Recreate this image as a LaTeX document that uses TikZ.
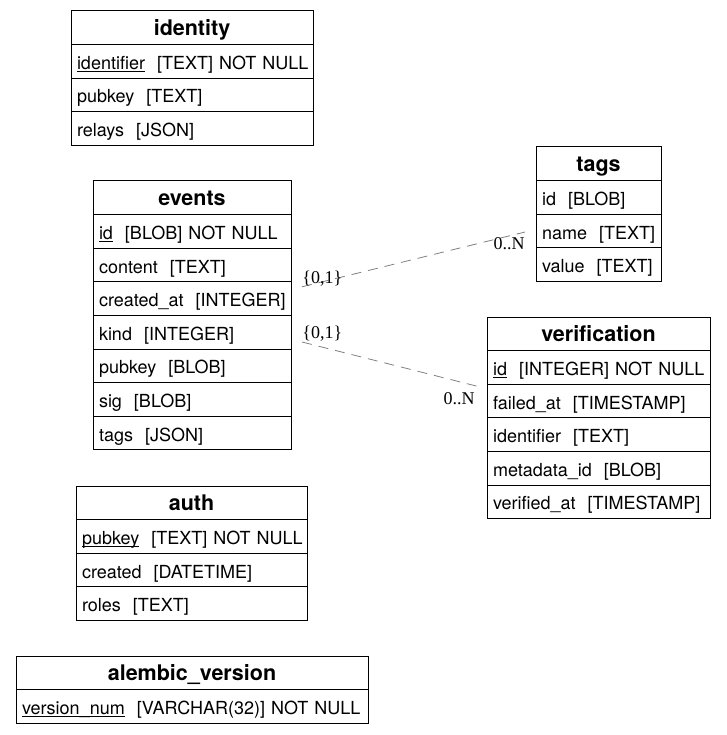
\documentclass[tikz,border=0pt]{standalone}
\usepackage{fontspec}
\setmainfont{TeX Gyre Heros}
\newfontfamily\cardfont{Liberation Serif}
\usetikzlibrary{positioning}

\newcommand\pk[1]{\setbox0\hbox{#1}\rlap{\rule[-2.5pt]{\wd0}{0.8pt}}\box0}
\newcommand\nohyph{\hyphenpenalty=10000\exhyphenpenalty=10000\relax}

\tikzset{
  cell/.style={draw, line width=1pt, outer sep=0pt, minimum height=33.6pt, inner xsep=6pt, inner ysep=0pt,
    text height=16pt, text depth=0pt},
  head/.style={cell, text width=#1, align=center, font=\fontsize{21.5}{25}\selectfont\bfseries},
  row/.style={cell, text width=#1, align=left, font=\fontsize{18}{22}\selectfont\nohyph},
  rel/.style={draw=gray, line width=0.8pt, dash pattern=on 10pt off 7pt},
  card/.style={inner sep=0pt, font=\cardfont\fontsize{18}{22}\selectfont}
}

\begin{document}
\begin{tikzpicture}[x=1pt, y=-1pt]

\useasboundingbox (0,0) rectangle (726,735);

% identity
\node[head=230pt, anchor=north west] (id-h) at (71,11) {identity};
\node[row=230pt, below=0pt of id-h] (id-identifier) {\pk{identifier}~~[TEXT]~NOT~NULL};
\node[row=230pt, below=0pt of id-identifier] (id-pubkey) {pubkey~~[TEXT]};
\node[row=230pt, below=0pt of id-pubkey] (id-relays) {relays~~[JSON]};

% events
\node[head=186pt, anchor=north west] (ev-h) at (93,181) {events};
\node[row=186pt, below=0pt of ev-h] (ev-id) {\pk{id}~~[BLOB]~NOT~NULL};
\node[row=186pt, below=0pt of ev-id] (ev-content) {content~~[TEXT]};
\node[row=186pt, below=0pt of ev-content] (ev-created) {created\_at~~[INTEGER]};
\node[row=186pt, below=0pt of ev-created] (ev-kind) {kind~~[INTEGER]};
\node[row=186pt, below=0pt of ev-kind] (ev-pubkey) {pubkey~~[BLOB]};
\node[row=186pt, below=0pt of ev-pubkey] (ev-sig) {sig~~[BLOB]};
\node[row=186pt, below=0pt of ev-sig] (ev-tags) {tags~~[JSON]};

% tags
\node[head=113pt, anchor=north west] (tg-h) at (536,147) {tags};
\node[row=113pt, below=0pt of tg-h] (tg-id) {id~~[BLOB]};
\node[row=113pt, below=0pt of tg-id] (tg-name) {name~~[TEXT]};
\node[row=113pt, below=0pt of tg-name] (tg-value) {value~~[TEXT]};

% verification
\node[head=211pt, anchor=north west] (vf-h) at (487,317) {verification};
\node[row=211pt, below=0pt of vf-h] (vf-id) {\pk{id}~~[INTEGER]~NOT~NULL};
\node[row=211pt, below=0pt of vf-id] (vf-failed) {failed\_at~~[TIMESTAMP]};
\node[row=211pt, below=0pt of vf-failed] (vf-identifier) {identifier~~[TEXT]};
\node[row=211pt, below=0pt of vf-identifier] (vf-metadata) {metadata\_id~~[BLOB]};
\node[row=211pt, below=0pt of vf-metadata] (vf-verified) {verified\_at~~[TIMESTAMP]};

% auth
\node[head=219pt, anchor=north west] (au-h) at (76,486) {auth};
\node[row=219pt, below=0pt of au-h] (au-pubkey) {\pk{pubkey}~~[TEXT]~NOT~NULL};
\node[row=219pt, below=0pt of au-pubkey] (au-created) {created~~[DATETIME]};
\node[row=219pt, below=0pt of au-created] (au-roles) {roles~~[TEXT]};

% alembic_version
\node[head=340pt, anchor=north west] (al-h) at (16,656) {alembic\_version};
\node[row=340pt, below=0pt of al-h] (al-version) {\pk{version\_num}~~[VARCHAR(32)]~NOT~NULL};

% relations
\draw[rel] ([shift={(11,5)}]ev-created.north east) -- ([shift={(-11,1)}]tg-name.west)
  node[card, pos=0, anchor=south west] (c-ev1) {\{0,1\}}
  node[card, pos=1, anchor=north east, yshift=-5pt] (c-tg) {0..N};
\draw[rel] ([shift={(11,-7)}]ev-kind.south east) -- ([shift={(-10,2)}]vf-id.south west)
  node[card, pos=0, anchor=south west] (c-ev2) {\{0,1\}}
  node[card, pos=1, anchor=north east, xshift=-2pt, yshift=-6pt] (c-vf) {0..N};

\end{tikzpicture}
\end{document}
